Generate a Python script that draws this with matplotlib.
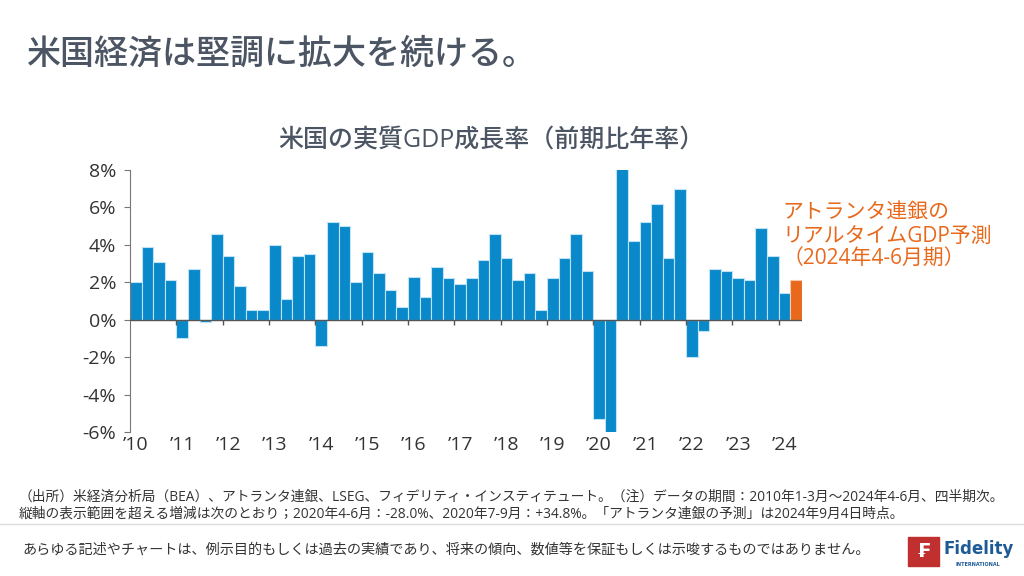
import numpy as np
import matplotlib
matplotlib.use("Agg")
import matplotlib.pyplot as plt
from matplotlib.patches import Rectangle

plt.rcParams['font.family'] = ['Open Sans', 'Noto Sans CJK JP', 'DejaVu Sans']

# quarterly US real GDP growth, q/q annualised (%), 2010Q1 - 2024Q1
gdp = [2.0, 3.9, 3.1, 2.1,
       -1.0, 2.7, -0.1, 4.6,
       3.4, 1.8, 0.5, 0.5,
       4.0, 1.1, 3.4, 3.5,
       -1.4, 5.2, 5.0, 2.0,
       3.6, 2.5, 1.6, 0.7,
       2.3, 1.2, 2.8, 2.2,
       1.9, 2.2, 3.2, 4.6,
       3.3, 2.1, 2.5, 0.5,
       2.2, 3.3, 4.6, 2.6,
       -5.3, -28.0, 34.8, 4.2,
       5.2, 6.2, 3.3, 7.0,
       -2.0, -0.6, 2.7, 2.6,
       2.2, 2.1, 4.9, 3.4,
       1.4]
nowcast = 2.1  # Atlanta Fed GDPNow, 2024Q2
years = list(range(2010, 2025))
year_labels = ["’%02d" % (y % 100) for y in years]
yticks = [8, 6, 4, 2, 0, -2, -4, -6]

BLUE = "#0989c9"
ORANGE = "#e8691c"
GREY = "#4b5563"
TXT = "#333333"

fig = plt.figure(figsize=(10.24, 5.76), dpi=100)
ax = fig.add_axes([0.127, 0.25, 0.656, 0.455])

x = np.arange(len(gdp))
ax.bar(x, gdp, width=1.0, color=BLUE, edgecolor="#bfe3f5", linewidth=0.8)
ax.bar(len(gdp), nowcast, width=1.0, color=ORANGE, edgecolor="#f7c9a8", linewidth=0.8)

ax.set_ylim(-6, 8)
ax.set_xlim(-0.5, len(gdp) + 0.5)
ax.set_yticks(yticks)
ax.set_yticklabels(["%d%%" % v for v in yticks], fontsize=14, color=TXT)
ax.tick_params(axis="y", length=4, color="#777777", pad=6)

q1 = [4 * i for i in range(len(years))]
ax.set_xticks(q1)
ax.set_xticklabels(year_labels, fontsize=14, color=TXT)
ax.tick_params(axis="x", length=0, pad=3)

for s in ["top", "right", "bottom"]:
    ax.spines[s].set_visible(False)
ax.spines["left"].set_color("#777777")
ax.axhline(0, color="#555555", lw=1.0, zorder=3)
ax.vlines([p - 0.5 for p in q1[1:]], -0.3, 0, color="#555555", lw=1.0, zorder=3)

fig.text(0.48, 0.757, "米国の実質GDP成長率（前期比年率）", fontsize=18, color=GREY,
         ha="center", va="center", fontweight="medium")

fig.text(0.764, 0.59, "アトランタ連銀の\nリアルタイムGDP予測\n（2024年4-6月期）",
         fontsize=15, color=ORANGE, linespacing=1.15, va="center")

fig.text(0.026, 0.905, "米国経済は堅調に拡大を続ける。", fontsize=24.5, color=GREY,
         va="center", fontweight="medium")

fig.text(0.018, 0.137,
         "（出所）米経済分析局（BEA）、アトランタ連銀、LSEG、フィデリティ・インスティテュート。（注）データの期間：2010年1-3月～2024年4-6月、四半期次。",
         fontsize=9.9, color=TXT, va="center")
fig.text(0.018, 0.107,
         "縦軸の表示範囲を超える増減は次のとおり；2020年4-6月：-28.0%、2020年7-9月：+34.8%。「アトランタ連銀の予測」は2024年9月4日時点。",
         fontsize=9.9, color=TXT, va="center")
fig.add_artist(plt.Line2D([0, 1], [0.09, 0.09], color="#dddddd", lw=1))
fig.text(0.022, 0.045,
         "あらゆる記述やチャートは、例示目的もしくは過去の実績であり、将来の傾向、数値等を保証もしくは示唆するものではありません。",
         fontsize=10.2, color=TXT, va="center")

# logo
fig.add_artist(Rectangle((0.887, 0.017), 0.030, 0.050, color="#c0302f"))
fig.text(0.902, 0.042, "₣", fontsize=14, color="white", ha="center", va="center",
         fontweight="bold", family="DejaVu Sans")
fig.text(0.921, 0.047, "Fidelity", fontsize=12, color="#1d5a96", fontweight="bold",
         va="center", family="DejaVu Sans")
fig.text(0.933, 0.020, "INTERNATIONAL", fontsize=3.5, color="#1d5a96",
         va="center", family="DejaVu Sans", fontweight="bold")

fig.savefig("out.png", dpi=100)
